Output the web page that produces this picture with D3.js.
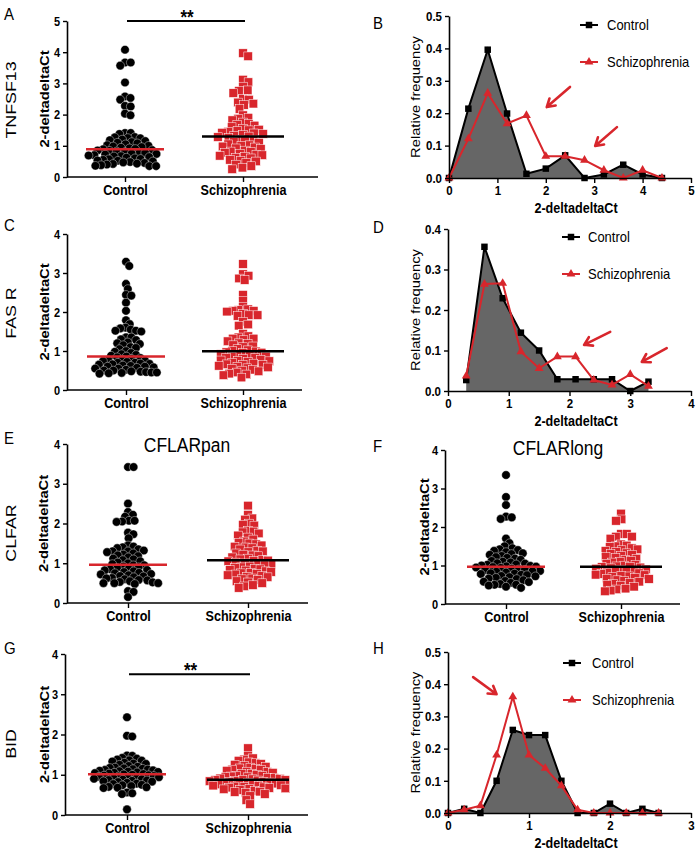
<!DOCTYPE html>
<html>
<head>
<meta charset="utf-8">
<script src="https://cdn.jsdelivr.net/npm/d3@7"></script>
<style>
body { margin: 0; background: #fff; }
text { font-family: "Liberation Sans", Arial, sans-serif; }
.tick text { transform-box: fill-box; transform-origin: center; transform: scaleY(1.15); }
</style>
</head>
<body>
<script>
const width = 699;
const height = 853;
const red = "#d8262c";
const groups = ["Control", "Schizophrenia"];

// A - TNFSF13
const tnfControl = [4.08, 3.67, 3.67, 3.57, 3.03, 2.58, 2.53, 2.48, 2.28, 2.26, 2.03, 1.98, 1.41, 1.41, 1.38,
 1.28, 1.27, 1.25, 1.24, 1.2, 1.18, 1.15, 1.12, 1.1, 1.08, 1.05, 1.02, 1.0, 0.98, 0.96, 0.94, 0.92, 0.9, 0.89,
 0.86, 0.85, 0.84, 0.82, 0.8, 0.78, 0.77, 0.75, 0.74, 0.72, 0.7, 0.69, 0.67, 0.66, 0.64, 0.62, 0.6, 0.58, 0.57,
 0.55, 0.53, 0.52, 0.5, 0.48, 0.47, 0.45, 0.43, 0.42, 0.4, 0.38, 0.36, 0.35, 0.35];
const tnfSchizo = [3.97, 3.87, 3.12, 3.04, 2.9, 2.78, 2.76, 2.69, 2.5, 2.48, 2.39, 2.35, 2.31, 2.18, 1.98, 1.9, 1.87,
 1.82, 1.75, 1.7, 1.68, 1.65, 1.6, 1.55, 1.52, 1.5, 1.48, 1.45, 1.42, 1.4, 1.38, 1.35, 1.32, 1.3, 1.28,
 1.25, 1.2, 1.18, 1.15, 1.12, 1.1, 1.05, 1.02, 1.0, 0.98, 0.95, 0.92, 0.9, 0.85, 0.82, 0.8, 0.78, 0.75, 0.72,
 0.7, 0.68, 0.65, 0.62, 0.6, 0.55, 0.52, 0.5, 0.45, 0.4, 0.35, 0.3, 0.25];

// C - FAS R
const fasControl = [3.29, 3.18, 2.72, 2.59, 2.44, 2.42, 2.24, 2.03, 1.79, 1.69, 1.6, 1.58, 1.55, 1.52, 1.52, 1.5,
 1.35, 1.35, 1.3, 1.28, 1.22, 1.2, 1.18, 1.15, 1.1, 1.08, 1.05, 1.0, 0.98, 0.95, 0.92, 0.9, 0.88, 0.86, 0.84,
 0.82, 0.8, 0.78, 0.76, 0.75, 0.74, 0.72, 0.7, 0.7, 0.68, 0.67, 0.66, 0.65, 0.63, 0.62, 0.6, 0.6, 0.58, 0.57,
 0.55, 0.55, 0.52, 0.5, 0.5, 0.48, 0.47, 0.46, 0.45, 0.45, 0.44, 0.43, 0.42];
const fasSchizo = [3.23, 2.97, 2.93, 2.86, 2.82, 2.44, 2.29, 2.14, 2.07, 2.05, 2.03, 2.03, 2.01, 1.95, 1.92, 1.92,
 1.9, 1.75, 1.68, 1.65, 1.44, 1.38, 1.35, 1.32, 1.32, 1.28, 1.25, 1.2, 1.18, 1.15, 1.12, 1.1, 1.05, 1.02, 1.0,
 0.99, 0.97, 0.96, 0.95, 0.92, 0.9, 0.88, 0.86, 0.85, 0.83, 0.82, 0.8, 0.78, 0.76, 0.75, 0.74, 0.72, 0.7, 0.68,
 0.66, 0.65, 0.64, 0.62, 0.6, 0.58, 0.56, 0.55, 0.52, 0.5, 0.48, 0.45, 0.42, 0.4, 0.38, 0.32];

// E - CFLARpan
const panControl = [3.42, 3.42, 2.5, 2.29, 2.22, 2.17, 2.07, 2.07, 2.05, 2.04, 1.77, 1.73, 1.63, 1.45, 1.42, 1.4,
 1.38, 1.35, 1.32, 1.3, 1.3, 1.28, 1.25, 1.22, 1.2, 1.18, 1.15, 1.12, 1.1, 1.08, 1.05, 1.02, 1.0, 0.98, 0.95,
 0.95, 0.92, 0.9, 0.88, 0.86, 0.85, 0.83, 0.82, 0.8, 0.78, 0.76, 0.75, 0.73, 0.72, 0.7, 0.68, 0.67, 0.65, 0.63,
 0.62, 0.6, 0.58, 0.57, 0.55, 0.53, 0.52, 0.5, 0.5, 0.5, 0.48, 0.3, 0.28, 0.15];
const panSchizo = [2.45, 2.22, 2.13, 2.1, 2.0, 1.97, 1.95, 1.82, 1.8, 1.78, 1.75, 1.7, 1.65, 1.6, 1.55, 1.52, 1.5,
 1.48, 1.45, 1.42, 1.4, 1.38, 1.35, 1.32, 1.3, 1.28, 1.25, 1.22, 1.2, 1.18, 1.15, 1.12, 1.1, 1.08, 1.07, 1.06,
 1.05, 1.02, 1.0, 0.98, 0.96, 0.95, 0.92, 0.9, 0.88, 0.86, 0.85, 0.83, 0.82, 0.8, 0.78, 0.76, 0.75, 0.73, 0.72,
 0.7, 0.68, 0.66, 0.65, 0.62, 0.6, 0.58, 0.55, 0.52, 0.5, 0.45, 0.42, 0.38];

// F - CFLARlong
const longControl = [3.35, 2.78, 2.57, 2.27, 2.25, 2.21, 1.7, 1.58, 1.5, 1.45, 1.42, 1.4, 1.38, 1.35, 1.32, 1.3,
 1.28, 1.25, 1.22, 1.2, 1.18, 1.15, 1.12, 1.1, 1.08, 1.06, 1.05, 1.03, 1.02, 1.0, 0.99, 0.98, 0.97, 0.96, 0.95,
 0.94, 0.92, 0.9, 0.89, 0.88, 0.86, 0.85, 0.84, 0.82, 0.8, 0.79, 0.78, 0.76, 0.75, 0.73, 0.72, 0.7, 0.68, 0.66,
 0.65, 0.62, 0.6, 0.58, 0.57, 0.55, 0.52, 0.5, 0.5, 0.48, 0.45, 0.42];
const longSchizo = [2.35, 2.2, 2.16, 1.82, 1.82, 1.75, 1.75, 1.7, 1.55, 1.52, 1.5, 1.48, 1.45, 1.42, 1.4, 1.38,
 1.35, 1.32, 1.3, 1.28, 1.25, 1.22, 1.2, 1.18, 1.15, 1.12, 1.1, 1.08, 1.05, 1.02, 1.0, 0.98, 0.97, 0.96, 0.95,
 0.93, 0.92, 0.9, 0.88, 0.86, 0.85, 0.83, 0.82, 0.8, 0.78, 0.76, 0.75, 0.73, 0.72, 0.7, 0.68, 0.66, 0.65, 0.62,
 0.6, 0.58, 0.55, 0.52, 0.5, 0.48, 0.45, 0.4, 0.38, 0.35, 0.33];

// G - BID
const bidControl = [2.43, 1.97, 1.95, 1.48, 1.47, 1.42, 1.4, 1.38, 1.36, 1.35, 1.33, 1.3, 1.28, 1.27, 1.25, 1.22,
 1.2, 1.18, 1.17, 1.16, 1.15, 1.14, 1.13, 1.12, 1.11, 1.1, 1.09, 1.08, 1.07, 1.06, 1.05, 1.04, 1.03, 1.02, 1.01,
 1.0, 0.99, 0.98, 0.97, 0.96, 0.95, 0.94, 0.93, 0.92, 0.91, 0.9, 0.89, 0.88, 0.87, 0.86, 0.85, 0.84, 0.83, 0.82,
 0.8, 0.78, 0.77, 0.75, 0.74, 0.72, 0.7, 0.69, 0.68, 0.67, 0.56, 0.54, 0.52, 0.14];
const bidSchizo = [1.66, 1.47, 1.41, 1.38, 1.35, 1.31, 1.29, 1.27, 1.25, 1.22, 1.2, 1.18, 1.16, 1.15, 1.13, 1.12,
 1.1, 1.08, 1.07, 1.05, 1.03, 1.02, 1.0, 0.98, 0.97, 0.96, 0.95, 0.94, 0.93, 0.92, 0.91, 0.9, 0.89, 0.88, 0.87,
 0.87, 0.86, 0.85, 0.84, 0.83, 0.82, 0.81, 0.8, 0.79, 0.78, 0.77, 0.76, 0.75, 0.74, 0.73, 0.72, 0.71, 0.7, 0.69,
 0.68, 0.67, 0.66, 0.65, 0.64, 0.62, 0.6, 0.58, 0.57, 0.55, 0.52, 0.47, 0.37, 0.27];

// B, D, H - relative frequency histograms
const binsB = [0, 0.4, 0.8, 1.2, 1.6, 2.0, 2.4, 2.8, 3.2, 3.6, 4.0, 4.4];
const freqBControl = [0, 0.214, 0.396, 0.199, 0.013, 0.029, 0.07, 0, 0.011, 0.041, 0.011, 0];
const freqBSchizo = [0, 0.121, 0.262, 0.168, 0.193, 0.067, 0.067, 0.055, 0.024, 0, 0.024, 0];

const binsD = [0.3, 0.6, 0.9, 1.2, 1.5, 1.8, 2.1, 2.4, 2.7, 3.0, 3.3];
const freqDControl = [0.027, 0.356, 0.229, 0.144, 0.1, 0.029, 0.029, 0.029, 0.029, 0, 0.023];
const freqDSchizo = [0.037, 0.264, 0.266, 0.097, 0.056, 0.085, 0.085, 0.027, 0.015, 0.041, 0.012];

const binsH = [0, 0.2, 0.4, 0.6, 0.8, 1.0, 1.2, 1.4, 1.6, 1.8, 2.0, 2.2, 2.4, 2.6];
const freqHControl = [0, 0.013, 0, 0.1, 0.258, 0.242, 0.242, 0.1, 0, 0, 0.029, 0, 0.013, 0];
const freqHSchizo = [0, 0.01, 0.023, 0.18, 0.361, 0.18, 0.139, 0.085, 0.01, 0, 0, 0, 0, 0];

// arrows, in data units [x1, y1, x2, y2]
const arrowsB = [[2.5, 0.281, 2.02, 0.219], [3.47, 0.157, 3.02, 0.099]];
const arrowsD = [[2.67, 0.146, 2.24, 0.114], [3.6, 0.106, 3.19, 0.072]];
const arrowsH = [[0.31, 0.422, 0.6, 0.369]];

const svg = d3.select("body")
  .append("svg")
    .attr("width", width)
    .attr("height", height);

// text helpers (figure is slightly stretched vertically)
function label(g, x, y, str, size, opts) {
  opts = opts || {};
  const t = g.append("text")
    .attr("font-size", size)
    .attr("font-weight", opts.bold ? "bold" : "normal")
    .attr("text-anchor", opts.anchor || "start")
    .text(str);
  if (opts.vertical)
    t.attr("transform", `translate(${x},${y}) rotate(-90) scale(1.15,1)`);
  else
    t.attr("transform", `translate(${x},${y}) scale(1,1.15)`);
  return t;
}

function styleAxis(a, size) {
  a.attr("font-family", null).attr("font-size", null);
  a.select(".domain").attr("stroke-width", 1.6);
  a.selectAll(".tick line").attr("stroke-width", 1.4);
  a.selectAll(".tick text")
    .attr("font-size", size)
    .attr("font-weight", "bold")
    .attr("fill", "#000");
}

// greedy beeswarm: each point goes as close to the centre as it can
function swarm(vals, y, d) {
  const pts = vals.map(v => ({v: v, y: y(v), x: 0})).sort((a, b) => a.y - b.y);
  const placed = [];
  pts.forEach(p => {
    const near = placed.filter(q => Math.abs(q.y - p.y) < d);
    const cands = [0];
    near.forEach(q => {
      const dx = Math.sqrt(d * d - (q.y - p.y) ** 2);
      cands.push(q.x + dx, q.x - dx);
    });
    cands.sort((a, b) => Math.abs(a) - Math.abs(b));
    for (const c of cands) {
      if (near.every(q => (q.x - c) ** 2 + (q.y - p.y) ** 2 >= d * d - 0.01)) {
        p.x = c;
        break;
      }
    }
    placed.push(p);
  });
  return pts;
}

function scatterPanel(o) {
  const g = svg.append("g");
  const y = d3.scaleLinear().domain([0, o.ymax]).range([o.y0, o.y1]);
  const x = d3.scalePoint().domain(groups).range(o.cats);

  const ya = g.append("g")
    .attr("transform", `translate(${o.ax},0)`)
    .call(d3.axisLeft(y).ticks(o.ymax).tickSize(4).tickSizeOuter(0).tickFormat(d3.format("d")));
  styleAxis(ya, 11);

  const xa = g.append("g")
    .attr("transform", `translate(0,${o.y0})`)
    .call(d3.axisBottom(x).tickSize(5).tickSizeOuter(0));
  xa.select(".domain").attr("d", `M${o.ax},0H${o.axEnd}`);
  styleAxis(xa, 12.6);

  // control: black circles
  g.append("g")
    .selectAll("circle")
    .data(swarm(o.control, y, o.gap[0]))
    .join("circle")
      .attr("cx", d => x("Control") + d.x)
      .attr("cy", d => d.y)
      .attr("r", 4.3)
      .attr("fill", "#000")
      .attr("stroke", "#fff")
      .attr("stroke-width", 0.4);

  // schizophrenia: red squares
  g.append("g")
    .selectAll("rect")
    .data(swarm(o.schizo, y, o.gap[1]))
    .join("rect")
      .attr("x", d => x("Schizophrenia") + d.x - 4.3)
      .attr("y", d => d.y - 4.3)
      .attr("width", 8.6)
      .attr("height", 8.6)
      .attr("fill", red)
      .attr("stroke", "#fff")
      .attr("stroke-width", 0.5);

  // medians
  const meds = [
    {c: "Control", m: d3.median(o.control), col: red, w: 39},
    {c: "Schizophrenia", m: d3.median(o.schizo), col: "#000", w: 41}
  ];
  g.append("g")
    .selectAll("line")
    .data(meds)
    .join("line")
      .attr("x1", d => x(d.c) - d.w)
      .attr("x2", d => x(d.c) + d.w)
      .attr("y1", d => y(d.m))
      .attr("y2", d => y(d.m))
      .attr("stroke", d => d.col)
      .attr("stroke-width", 2.5);

  if (o.sig) {
    g.append("line")
      .attr("x1", x("Control") + 2).attr("x2", x("Schizophrenia") + 2)
      .attr("y1", y(o.sig)).attr("y2", y(o.sig))
      .attr("stroke", "#000").attr("stroke-width", 2);
    label(g, (x("Control") + x("Schizophrenia")) / 2 + 3, y(o.sig) + 3, "**", 17, {anchor: "middle", bold: true});
  }

  label(g, o.ylabX, (o.y0 + o.y1) / 2, "2-deltadeltaCt", 12.8, {bold: true, vertical: true, anchor: "middle"});
  if (o.title) label(g, o.title[1], o.title[2], o.title[0], 17.5, {anchor: "middle"});
  label(g, o.letter[1], o.letter[2], o.letter[0], 15);
  if (o.gene) label(g, 16, o.gene[1], o.gene[0], 15.5, {vertical: true, anchor: "middle"});
}

function arrowPath(x1, y1, x2, y2) {
  const a = Math.atan2(y2 - y1, x2 - x1), h = 9, w = 0.55;
  return `M${x1},${y1}L${x2},${y2}` +
    `M${x2 - h * Math.cos(a - w)},${y2 - h * Math.sin(a - w)}L${x2},${y2}` +
    `L${x2 - h * Math.cos(a + w)},${y2 - h * Math.sin(a + w)}`;
}

function histPanel(o) {
  const g = svg.append("g");
  const x = d3.scaleLinear().domain([0, o.xmax]).range([o.ax, 691]);
  const y = d3.scaleLinear().domain([0, o.ymax]).range([o.y0, o.y1]);

  // grey area under the control curve
  g.append("path")
    .datum(o.control)
    .attr("d", d3.area().x((d, i) => x(o.bins[i])).y0(y(0)).y1(d => y(d)))
    .attr("fill", "#666");

  const line = d3.line().x((d, i) => x(o.bins[i])).y(d => y(d));
  g.append("path").datum(o.control).attr("d", line)
    .attr("fill", "none").attr("stroke", "#000").attr("stroke-width", 2);
  g.append("g").selectAll("path").data(o.control).join("path")
    .attr("transform", (d, i) => `translate(${x(o.bins[i])},${y(d)})`)
    .attr("d", d3.symbol(d3.symbolSquare, 42))
    .attr("fill", "#000");

  g.append("path").datum(o.schizo).attr("d", line)
    .attr("fill", "none").attr("stroke", red).attr("stroke-width", 2);
  g.append("g").selectAll("path").data(o.schizo).join("path")
    .attr("transform", (d, i) => `translate(${x(o.bins[i])},${y(d)})`)
    .attr("d", d3.symbol(d3.symbolTriangle, 34))
    .attr("fill", red);

  g.append("g").selectAll("path").data(o.arrows).join("path")
    .attr("d", d => arrowPath(x(d[0]), y(d[1]), x(d[2]), y(d[3])))
    .attr("fill", "none").attr("stroke", red).attr("stroke-width", 2.6)
    .attr("stroke-linecap", "round").attr("stroke-linejoin", "round");

  const ya = g.append("g")
    .attr("transform", `translate(${o.ax},0)`)
    .call(d3.axisLeft(y).ticks(o.ymax * 10).tickSize(4).tickSizeOuter(0).tickFormat(d3.format(".1f")));
  styleAxis(ya, 11.5);
  const xa = g.append("g")
    .attr("transform", `translate(0,${o.y0})`)
    .call(d3.axisBottom(x).ticks(o.xmax).tickSize(5).tickSizeOuter(0).tickFormat(d3.format("d")));
  styleAxis(xa, 11.5);

  label(g, 420, (o.y0 + o.y1) / 2, "Relative frequency", 12.8, {vertical: true, anchor: "middle"});
  label(g, 576, o.xlabY, "2-deltadeltaCt", 12.6, {bold: true, anchor: "middle"});
  label(g, o.letter[1], o.letter[2], o.letter[0], 15);

  // legend
  const lg = g.append("g");
  [["Control", "#000", d3.symbolSquare, 42], ["Schizophrenia", red, d3.symbolTriangle, 34]].forEach((s, i) => {
    const ly = o.legend[1] + i * 37;
    lg.append("line").attr("x1", o.legend[0]).attr("x2", o.legend[0] + 18)
      .attr("y1", ly).attr("y2", ly).attr("stroke", s[1]).attr("stroke-width", 2);
    lg.append("path").attr("transform", `translate(${o.legend[0] + 9},${ly})`)
      .attr("d", d3.symbol(s[2], s[3])).attr("fill", s[1]);
    label(lg, o.legend[2], ly + 4.5, s[0], 13);
  });
}

scatterPanel({control: tnfControl, schizo: tnfSchizo, ymax: 5, ax: 67, axEnd: 318, y0: 177, y1: 21,
  cats: [125, 243], gap: [5.7, 6.0], sig: 5, ylabX: 49, letter: ["A", 4, 20], gene: ["TNFSF13", 100]});
scatterPanel({control: fasControl, schizo: fasSchizo, ymax: 4, ax: 67, axEnd: 302, y0: 390, y1: 234,
  cats: [126, 243], gap: [5.4, 5.8], ylabX: 49, letter: ["C", 4, 231], gene: ["FAS R", 313]});
scatterPanel({control: panControl, schizo: panSchizo, ymax: 4, ax: 67, axEnd: 308, y0: 603, y1: 444,
  cats: [128, 248], gap: [5.6, 5.6], ylabX: 48, letter: ["E", 4, 444], gene: ["CLFAR", 533],
  title: ["CFLARpan", 187, 452]});
scatterPanel({control: longControl, schizo: longSchizo, ymax: 4, ax: 445, axEnd: 680, y0: 604, y1: 450,
  cats: [506, 621], gap: [5.8, 5.8], ylabX: 429, letter: ["F", 373, 452], title: ["CFLARlong", 558, 455]});
scatterPanel({control: bidControl, schizo: bidSchizo, ymax: 4, ax: 65, axEnd: 308, y0: 815, y1: 654,
  cats: [127, 248], gap: [5.3, 5.5], sig: 3.5, ylabX: 49, letter: ["G", 4, 654], gene: ["BID", 744]});

histPanel({bins: binsB, control: freqBControl, schizo: freqBSchizo, arrows: arrowsB, xmax: 5, ymax: 0.5,
  ax: 449, y0: 178, y1: 16, xlabY: 213, letter: ["B", 373, 29], legend: [580, 25, 607]});
histPanel({bins: binsD, control: freqDControl, schizo: freqDSchizo, arrows: arrowsD, xmax: 4, ymax: 0.4,
  ax: 448, y0: 391, y1: 229, xlabY: 426, letter: ["D", 373, 233], legend: [562, 237, 588]});
histPanel({bins: binsH, control: freqHControl, schizo: freqHSchizo, arrows: arrowsH, xmax: 3, ymax: 0.5,
  ax: 448, y0: 813, y1: 652, xlabY: 848, letter: ["H", 373, 654], legend: [563, 663, 592]});
</script>
</body>
</html>
